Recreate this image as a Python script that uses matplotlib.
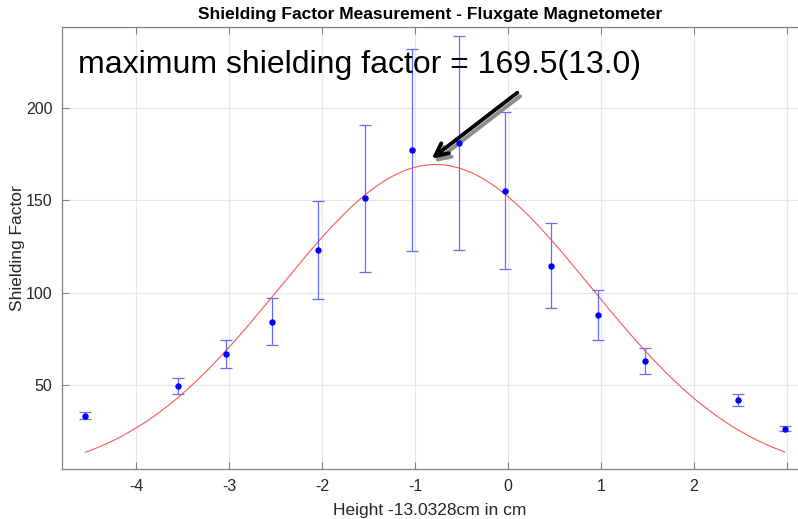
import numpy as np
import matplotlib
matplotlib.use("Agg")
import matplotlib.pyplot as plt
import matplotlib.transforms as mtransforms

plt.rcParams['font.family'] = ['Liberation Sans', 'DejaVu Sans']

# measured shielding factors
height = [-4.544, -3.544, -3.035, -2.541, -2.039, -1.541, -1.029,
          -0.530, -0.032, 0.466, 0.968, 1.470, 2.470, 2.975]
shield = [33.4, 49.6, 66.9, 84.3, 123.1, 151.1, 177.2,
          181.3, 155.4, 114.7, 87.9, 63.0, 41.9, 26.4]
shield_err = [1.9, 4.3, 7.7, 12.7, 26.7, 40.0, 54.8,
              58.0, 42.6, 23.0, 13.5, 6.8, 3.0, 1.3]

# gaussian fit parameters
fit_amp = 169.5
fit_mu = -0.78
fit_sigma = 1.675

xticks = [-4, -3, -2, -1, 0, 1, 2, 3]
xticklabels = ['-4', '-3', '-2', '-1', '0', '1', '2', '']
yticks = [50, 100, 150, 200]

txt_col = '#262626'
fig = plt.figure(figsize=(7.98, 5.19), dpi=100)
ax = fig.add_axes([62 / 798, 50 / 519, 736 / 798, 442 / 519])

xf = np.linspace(min(height), max(height), 300)
yf = fit_amp * np.exp(-(xf - fit_mu) ** 2 / (2 * fit_sigma ** 2))
ax.plot(xf, yf, color='#ff5555', lw=0.8, zorder=2)

ax.errorbar(height, shield, yerr=shield_err, fmt='none', ecolor='#6a6aff',
            elinewidth=0.9, capsize=4.5, capthick=0.9, zorder=3)
ax.plot(height, shield, 'o', color='#0000ff', ms=3.6, zorder=4)

ax.set_xlim(-4.796, 3.118)
ax.set_ylim(4.5, 244)
ax.set_xticks(xticks)
ax.set_xticklabels(xticklabels)
ax.set_yticks(yticks)
ax.grid(True, color='#e6e6e6', lw=0.8)
ax.set_axisbelow(True)
ax.tick_params(direction='in', length=5, width=0.8, color='#808080',
               labelcolor=txt_col, labelsize=11.5, top=True, pad=7)
for s in ['left', 'bottom', 'top']:
    ax.spines[s].set_color('#808080')
    ax.spines[s].set_linewidth(0.9)
ax.spines['right'].set_visible(False)

ax.set_title('Shielding Factor Measurement - Fluxgate Magnetometer',
             fontsize=12.5, fontweight='bold', color='black', pad=6)
ax.set_xlabel('Height -13.0328cm in cm', fontsize=12.5, color=txt_col)
ax.set_ylabel('Shielding Factor', fontsize=12.5, color=txt_col)
ax.xaxis.set_label_coords(0.5, -0.077)
ax.yaxis.set_label_coords(-0.050, 0.5)

ax.text(-4.62, 219, 'maximum shielding factor = 169.5(13.0)',
        fontsize=23, color='black', va='baseline', ha='left')

# arrow with grey drop shadow
arrow_tip = (-0.82, 172.7)
arrow_tail = (0.10, 208.4)
astyle = '->,head_length=0.9,head_width=0.45'
shadow_tr = mtransforms.offset_copy(ax.transData, fig=fig, x=2, y=-2.5, units='points')
ax.annotate('', xy=arrow_tip, xytext=arrow_tail,
            xycoords=shadow_tr, textcoords=shadow_tr,
            arrowprops=dict(arrowstyle=astyle, color='#8c8c8c', lw=2.8,
                            shrinkA=0, shrinkB=0))
ax.annotate('', xy=arrow_tip, xytext=arrow_tail,
            arrowprops=dict(arrowstyle=astyle, color='black', lw=2.8,
                            shrinkA=0, shrinkB=0))

fig.savefig('out.png', dpi=100)
